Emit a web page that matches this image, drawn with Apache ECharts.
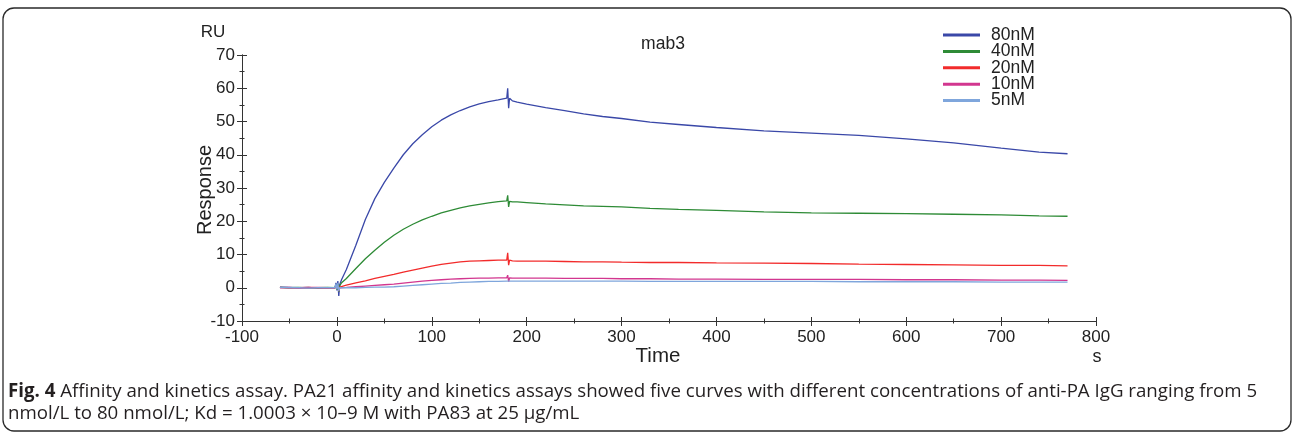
<!DOCTYPE html>
<html>
<head>
<meta charset="utf-8">
<script src="https://cdn.jsdelivr.net/npm/echarts@6/dist/echarts.min.js"></script>
<style>
html,body{margin:0;padding:0;background:#fff;}
#chart{width:1292px;height:434px;}
</style>
</head>
<body>
<div id="chart"></div>
<script>
// ---- data ----
const times = [-60, -50, -40, -30, -20, -10, -2, -1, 0, 1, 2, 3, 5, 10, 20, 30, 40, 50, 60, 70, 80, 90, 100, 110, 120, 130, 140, 150, 160, 170, 179, 180, 181, 182, 185, 190, 200, 220, 240, 260, 280, 300, 330, 360, 400, 450, 500, 550, 600, 650, 700, 740, 770];
const ru80 = [0.2, 0.1, 0.0, 0.1, -0.1, 0.0, 0.0, 1.5, -0.8, 2.0, -2.5, 1.0, 2.5, 5.5, 12.8, 20.5, 26.8, 31.7, 36, 40, 43.3, 46.0, 48.4, 50.4, 52.0, 53.3, 54.4, 55.3, 56.0, 56.5, 57.0, 60.0, 54.0, 57.0, 56.2, 55.8, 55.2, 54.2, 53.3, 52.3, 51.5, 50.9, 49.8, 49.1, 48.2, 47.2, 46.5, 45.8, 44.8, 43.6, 42.0, 40.8, 40.3];
const ru40 = [0.1, 0.0, 0.1, -0.1, 0.0, 0.1, 0.0, 0.8, -0.6, 1.2, -1.2, 0.6, 1.5, 2.8, 5.8, 8.7, 11.3, 13.7, 15.8, 17.6, 19.1, 20.4, 21.5, 22.5, 23.3, 24.0, 24.6, 25.1, 25.5, 25.9, 26.1, 27.8, 24.3, 26.0, 25.8, 25.8, 25.6, 25.2, 24.9, 24.6, 24.5, 24.3, 23.9, 23.6, 23.3, 22.8, 22.5, 22.4, 22.3, 22.1, 21.9, 21.6, 21.5];
const ru20 = [0.1, -0.1, 0.0, 0.1, 0.0, -0.1, 0.0, 0.5, -0.5, 0.8, -1.0, 0.2, 0.4, 0.8, 1.5, 2.1, 2.8, 3.4, 4.0, 4.7, 5.3, 5.9, 6.5, 7.0, 7.4, 7.8, 8.0, 8.1, 8.2, 8.3, 8.3, 10.5, 6.8, 8.3, 8.1, 8.0, 8.0, 8.0, 7.9, 7.8, 7.8, 7.7, 7.6, 7.6, 7.5, 7.4, 7.3, 7.1, 7.0, 6.9, 6.7, 6.7, 6.6];
const ru10 = [0.0, 0.1, -0.1, 0.0, 0.1, 0.0, 0.0, 0.3, -0.3, 0.5, -0.7, 0.0, 0.1, 0.1, 0.3, 0.5, 0.7, 0.9, 1.1, 1.4, 1.7, 2.0, 2.2, 2.4, 2.6, 2.7, 2.8, 2.9, 2.9, 3.0, 3.0, 3.8, 1.8, 3.0, 2.9, 2.9, 2.9, 2.9, 2.8, 2.8, 2.8, 2.7, 2.7, 2.6, 2.6, 2.5, 2.5, 2.5, 2.4, 2.4, 2.3, 2.3, 2.2];
const ru5 = [0.1, 0.0, 0.0, -0.1, 0.0, 0.0, 0.0, 1.2, -0.5, 1.4, -1.0, 0.0, 0.0, 0.0, 0.0, 0.1, 0.2, 0.2, 0.3, 0.5, 0.7, 0.9, 1.1, 1.3, 1.4, 1.6, 1.7, 1.8, 1.9, 1.9, 2.0, 2.5, 1.4, 2.0, 2.0, 2.0, 2.0, 2.0, 2.0, 2.0, 2.0, 2.0, 1.9, 1.9, 1.9, 1.9, 1.9, 1.8, 1.8, 1.8, 1.7, 1.7, 1.7];
const seriesNames = ['80nM', '40nM', '20nM', '10nM', '5nM'];
const seriesValues = [ru80, ru40, ru20, ru10, ru5];
const seriesColors = ['#3a48a8', '#2e8b36', '#f22b2b', '#d2368f', '#7fa6dc'];
const chartTitle = 'mab3';
const xAxisName = 'Time';
const xUnit = 's';
const yAxisName = 'Response';
const yUnit = 'RU';
const captionBold = 'Fig. 4';
const captionLine1 = ' Affinity and kinetics assay. PA21 affinity and kinetics assays showed five curves with different concentrations of anti-PA IgG ranging from 5';
const captionLine2 = 'nmol/L to 80 nmol/L; Kd = 1.0003 × 10–9 M with PA83 at 25 µg/mL';

const FONT = '"Liberation Sans", Arial, sans-serif';
const CAPFONT = '"Open Sans", sans-serif';
const axisColor = '#333';

function xAxisCfg(inside) {
  return {
    type: 'value', min: -100, max: 800, interval: 100, position: 'bottom', gridIndex: 0,
    axisLine: { show: true, onZero: false, lineStyle: { color: axisColor, width: 1 } },
    axisTick: { show: true, inside: inside, length: inside ? 4 : 5, lineStyle: { color: axisColor } },
    minorTick: { show: true, splitNumber: 2, length: 2.5, lineStyle: { color: axisColor } },
    splitLine: { show: false }, minorSplitLine: { show: false },
    axisLabel: { show: !inside, fontSize: 17, color: '#222', margin: 8, fontFamily: FONT }
  };
}
function yAxisCfg(inside) {
  return {
    type: 'value', min: -10, max: 70, interval: 10, position: 'left', gridIndex: 0,
    axisLine: { show: true, onZero: false, lineStyle: { color: axisColor, width: 1 } },
    axisTick: { show: true, inside: inside, length: 5, lineStyle: { color: axisColor } },
    minorTick: { show: true, splitNumber: 2, length: 2.5, lineStyle: { color: axisColor } },
    splitLine: { show: false }, minorSplitLine: { show: false },
    axisLabel: { show: !inside, fontSize: 17, color: '#222', margin: 7, fontFamily: FONT }
  };
}

const chart = echarts.init(document.getElementById('chart'), null, { renderer: 'canvas' });
chart.setOption({
  animation: false,
  backgroundColor: '#fff',
  grid: { left: 242, right: 196, top: 55, bottom: 113, containLabel: false },
  xAxis: [xAxisCfg(false), xAxisCfg(true)],
  yAxis: [yAxisCfg(false), yAxisCfg(true)],
  legend: {
    orient: 'vertical', left: 943, top: 26, padding: 0,
    itemWidth: 37, itemHeight: 3, itemGap: -1.6, icon: 'rect',
    textStyle: { fontSize: 17.5, color: '#222', fontFamily: FONT, padding: [0, 0, 0, 6] },
    data: seriesNames
  },
  series: seriesNames.map((n, i) => ({
    name: n, type: 'line', showSymbol: false, symbol: 'none',
    xAxisIndex: 0, yAxisIndex: 0,
    lineStyle: { color: seriesColors[i], width: 1.3 },
    itemStyle: { color: seriesColors[i] },
    data: times.map((t, k) => [t, seriesValues[i][k]])
  })),
  graphic: [
    { type: 'rect', shape: { x: 3, y: 8, width: 1288, height: 423, r: 11 },
      style: { fill: 'none', stroke: '#2a2a2a', lineWidth: 1.3 }, silent: true },
    { type: 'text', x: 663, y: 44, style: { text: chartTitle, fontSize: 17.5, fontFamily: FONT, fill: '#222', align: 'center', verticalAlign: 'middle' } },
    { type: 'text', x: 213, y: 32.5, style: { text: yUnit, fontSize: 17, fontFamily: FONT, fill: '#222', align: 'center', verticalAlign: 'middle' } },
    { type: 'text', x: 205, y: 190, rotation: Math.PI / 2, style: { text: yAxisName, fontSize: 20, fontFamily: FONT, fill: '#222', align: 'center', verticalAlign: 'middle' } },
    { type: 'text', x: 658, y: 356, style: { text: xAxisName, fontSize: 20.5, fontFamily: FONT, fill: '#222', align: 'center', verticalAlign: 'middle' } },
    { type: 'text', x: 1097, y: 357, style: { text: xUnit, fontSize: 18, fontFamily: FONT, fill: '#222', align: 'center', verticalAlign: 'middle' } },
    { type: 'text', x: 8, y: 392, style: {
        text: '{b|' + captionBold + '}' + captionLine1,
        rich: { b: { fontWeight: 'bold', fontSize: 18.7, fontFamily: CAPFONT, fill: '#231f20' } },
        fontSize: 18.7, fontFamily: CAPFONT, fill: '#231f20', align: 'left', verticalAlign: 'middle' } },
    { type: 'text', x: 8, y: 414, style: { text: captionLine2, fontSize: 18.7, fontFamily: CAPFONT, fill: '#231f20', align: 'left', verticalAlign: 'middle' } }
  ]
});
</script>
</body>
</html>
